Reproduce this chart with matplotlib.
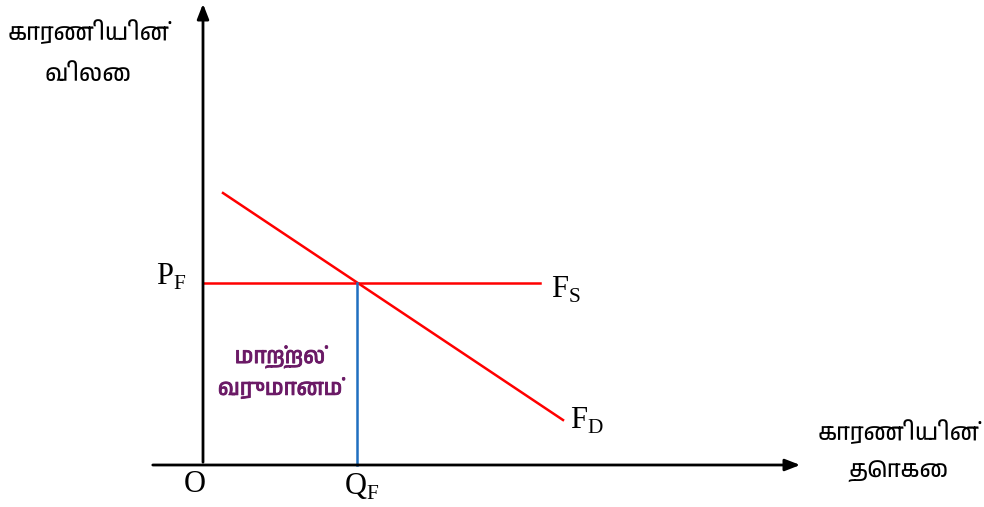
import matplotlib
matplotlib.use("Agg")
import matplotlib.pyplot as plt
import matplotlib.patheffects as pe
from matplotlib import font_manager

# pick a font that has Tamil glyphs, if any is installed
tamil_fams = sorted({f.name for f in font_manager.fontManager.ttflist
                     if "tamil" in f.name.lower() or "lohit" in f.name.lower()
                     or "latha" in f.name.lower() or "vijaya" in f.name.lower()})
TAMIL = tamil_fams + ["Noto Sans", "DejaVu Sans"]
SERIF = ["Liberation Serif", "DejaVu Serif"]

# data (units: origin at the axes' crossing)
demand_x = [20, 360]
demand_y = [272, 45]
supply_x = [0, 337]
supply_y = [182, 182]
q_f = 154
p_f = 182

y_label = "காரணியின்\nவிலை"
x_label = "காரணியின்\nதொகை"
area_label = "மாற்றல்\nவருமானம்"

fig = plt.figure(figsize=(9.84, 5.07), dpi=100)
ax = fig.add_axes([0, 0, 1, 1])
ax.set_xlim(-203, 781)
ax.set_ylim(-42, 465)
ax.axis("off")

# axes with arrows
ax.annotate("", xy=(600, 0), xytext=(-53, 0),
            arrowprops=dict(arrowstyle="-|>,head_length=0.9,head_width=0.35", lw=2, color="black"))
ax.annotate("", xy=(0, 464), xytext=(0, 0),
            arrowprops=dict(arrowstyle="-|>,head_length=0.9,head_width=0.35", lw=2, color="black"))

ax.plot(demand_x, demand_y, color="red", lw=1.8)
ax.plot(supply_x, supply_y, color="red", lw=1.8)
ax.plot([q_f, q_f], [0, p_f], color="#1f6fc0", lw=1.8)

ax.text(-8, -20, "O", fontsize=22, family=SERIF, ha="center", va="center")
ax.text(159, -22, "Q$_\\mathregular{F}$", fontsize=22, family=SERIF, ha="center", va="center")
ax.text(-32, p_f + 6, "P$_\\mathregular{F}$", fontsize=22, family=SERIF, ha="center", va="center")
ax.text(348, 175, "F$_\\mathregular{S}$", fontsize=22, family=SERIF, ha="left", va="center")
ax.text(367, 44, "F$_\\mathregular{D}$", fontsize=22, family=SERIF, ha="left", va="center")

ax.text(-115, 413, y_label, fontsize=17, family=TAMIL, ha="center", va="center", linespacing=2.2)
ax.text(695, 14, x_label, fontsize=17, family=TAMIL, ha="center", va="center", linespacing=2.0)
# the Tamil font has no bold face, so thicken it a little with a stroke
ax.text(77, 93, area_label, fontsize=16, family=TAMIL, weight="bold",
        color="#6b1a66", ha="center", va="center", linespacing=1.5,
        path_effects=[pe.withStroke(linewidth=0.6, foreground="#6b1a66")])

fig.savefig("out.png", dpi=100)
